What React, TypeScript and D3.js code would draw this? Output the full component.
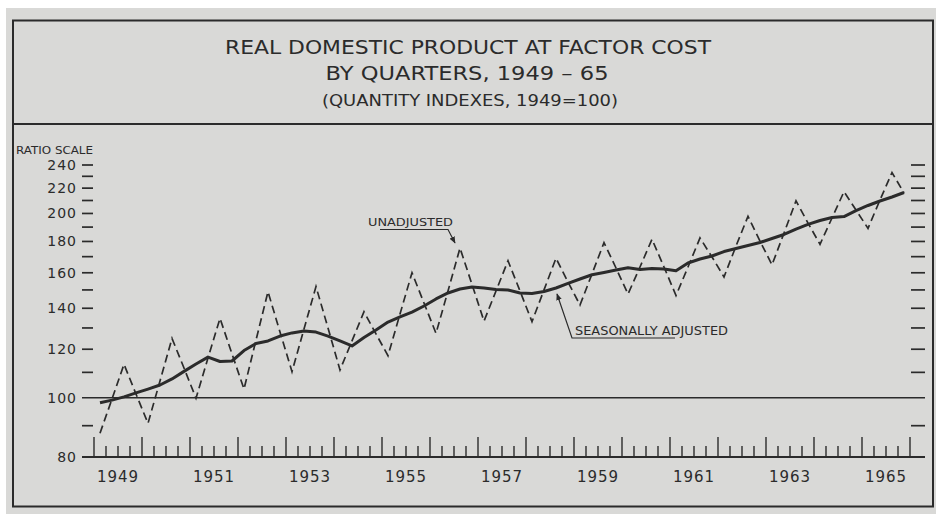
import React from "react";
import * as d3 from "d3";

// Real domestic product at factor cost, quarterly 1949Q1 - 1965Q4 (1949 = 100)
const yearLabels = [1949, 1951, 1953, 1955, 1957, 1959, 1961, 1963, 1965];
const yTickLabels = [80, 100, 120, 140, 160, 180, 200, 220, 240];
const yMinorTicks = [90, 110, 130, 150, 170, 190, 210, 230];

const unadjusted = [
  87.5, 99.5, 113.4, 101.4,
  90.8, 106.5, 125.0, 111.8,
  99.8, 116.1, 134.8, 117.9,
  103.3, 124.2, 149.0, 128.0,
  110.3, 129.5, 151.9, 130.0,
  111.0, 123.8, 138.2, 127.1,
  117.1, 137.0, 160.0, 142.8,
  127.4, 149.4, 175.6, 153.1,
  133.4, 149.4, 167.4, 149.4,
  133.1, 150.0, 169.0, 154.5,
  141.7, 159.3, 179.2, 162.9,
  147.7, 163.5, 181.5, 163.5,
  146.9, 163.5, 182.4, 169.8,
  157.5, 176.9, 197.9, 180.3,
  164.8, 185.8, 209.7, 192.9,
  178.1, 196.6, 217.1, 202.6,
  189.1, 210.4, 233.3, 216.0,
];

const seasonallyAdjusted = [
  98.1, 99.1, 100.3, 101.8,
  103.3, 104.9, 107.3, 110.4,
  113.5, 116.5, 114.6, 114.8,
  119.4, 122.6, 123.8, 126.1,
  127.6, 128.5, 128.0, 126.1,
  123.8, 121.5, 125.4, 129.0,
  132.9, 135.5, 138.0, 141.2,
  145.0, 148.3, 150.5, 151.7,
  151.1, 150.2, 150.0, 148.3,
  148.0, 149.1, 151.1, 153.7,
  156.3, 158.8, 160.2, 161.7,
  163.1, 162.0, 162.6, 162.3,
  161.2, 166.0, 168.5, 170.4,
  173.3, 175.3, 177.3, 179.3,
  182.0, 184.8, 188.6, 191.9,
  194.8, 197.0, 197.7, 202.2,
  206.1, 209.6, 212.8, 216.4,
];

const INK = "#2b2b2b";
const PAPER = "#d9d9d7";
const FONT = "'DejaVu Sans', sans-serif";

const App: React.FC = () => {
  const width = 936;
  const height = 514;

  const x = d3.scaleLinear().domain([1949, 1966]).range([94, 910]);
  const y = d3.scaleLog().domain([80, 240]).range([457, 165]);

  // points sit at the middle of each quarter
  const qx = (i: number) => x(1949 + (i + 0.5) / 4);

  const line = d3
    .line<number>()
    .x((_, i) => qx(i))
    .y((d) => y(d));

  const quarterTicks = d3.range(0, 17 * 4 + 1).map((i) => 1949 + i / 4);

  const axisLeft = 82;
  const axisRight = 925;

  return (
    <svg
      width={width}
      height={height}
      style={{ position: "fixed", top: 0, left: 0, display: "block" }}
    >
      <defs>
        <marker
          id="arrow"
          viewBox="0 0 10 10"
          refX="9"
          refY="5"
          markerWidth="7"
          markerHeight="7"
          orient="auto"
          markerUnits="userSpaceOnUse"
        >
          <path d="M0,1 L10,5 L0,9 z" fill={INK} />
        </marker>
      </defs>

      <rect x={0} y={0} width={width} height={height} fill="#ffffff" />
      <rect x={6} y={8} width={width - 6} height={height - 8} fill={PAPER} />

      {/* frame */}
      <rect
        x={13}
        y={20.5}
        width={920}
        height={486}
        fill="none"
        stroke={INK}
        strokeWidth={2}
      />
      <line x1={13} x2={933} y1={124} y2={124} stroke={INK} strokeWidth={2} />

      {/* title */}
      <g fill={INK} fontFamily={FONT} textAnchor="middle">
        <text x={468} y={54} fontSize={19} textLength={486} lengthAdjust="spacingAndGlyphs">
          REAL DOMESTIC PRODUCT AT FACTOR COST
        </text>
        <text x={467} y={80} fontSize={19} textLength={283} lengthAdjust="spacingAndGlyphs">
          BY QUARTERS, 1949 – 65
        </text>
        <text x={470} y={106} fontSize={15} textLength={296} lengthAdjust="spacingAndGlyphs">
          (QUANTITY INDEXES, 1949=100)
        </text>
      </g>

      {/* y axis */}
      <text
        x={16}
        y={154}
        fontSize={10.5}
        fontFamily={FONT}
        fill={INK}
        textLength={77}
        lengthAdjust="spacingAndGlyphs"
      >
        RATIO SCALE
      </text>
      {yTickLabels.map((v) => (
        <text
          key={`yl${v}`}
          x={77}
          y={y(v) + 5}
          fontSize={14}
          fontFamily={FONT}
          fill={INK}
          textAnchor="end"
          letterSpacing={1}
        >
          {v}
        </text>
      ))}
      {[...yTickLabels, ...yMinorTicks]
        .filter((v) => v !== 80 && v !== 100)
        .map((v) => (
          <g key={`yt${v}`} stroke={INK} strokeWidth={1.7}>
            <line x1={axisLeft} x2={axisLeft + 11} y1={y(v)} y2={y(v)} />
            <line x1={axisRight - 14} x2={axisRight} y1={y(v)} y2={y(v)} />
          </g>
        ))}

      {/* 100 reference line and base axis */}
      <line x1={axisLeft} x2={axisRight} y1={y(100)} y2={y(100)} stroke={INK} strokeWidth={1.6} />
      <line x1={axisLeft} x2={axisRight} y1={y(80)} y2={y(80)} stroke={INK} strokeWidth={1.8} />

      {/* quarter ticks */}
      {quarterTicks.map((t, i) => (
        <line
          key={`qt${i}`}
          x1={x(t)}
          x2={x(t)}
          y1={y(80)}
          y2={y(80) - (i % 4 === 0 ? 20 : 11)}
          stroke={INK}
          strokeWidth={1.4}
        />
      ))}
      {yearLabels.map((yr) => (
        <text
          key={`yr${yr}`}
          x={x(yr + 0.5)}
          y={482}
          fontSize={15}
          fontFamily={FONT}
          fill={INK}
          textAnchor="middle"
          letterSpacing={1}
        >
          {yr}
        </text>
      ))}

      {/* series */}
      <path
        d={line(unadjusted) || ""}
        fill="none"
        stroke={INK}
        strokeWidth={1.7}
        strokeDasharray="8 4.5"
      />
      <path
        d={line(seasonallyAdjusted) || ""}
        fill="none"
        stroke={INK}
        strokeWidth={3}
        strokeLinejoin="round"
      />

      {/* annotations */}
      <g fill={INK} fontFamily={FONT}>
        <text x={368} y={226} fontSize={11} textLength={85} lengthAdjust="spacingAndGlyphs">
          UNADJUSTED
        </text>
        <text x={575} y={335} fontSize={12} textLength={153} lengthAdjust="spacingAndGlyphs">
          SEASONALLY ADJUSTED
        </text>
      </g>
      <polyline
        points="380,229.5 448,229.5 455,243"
        fill="none"
        stroke={INK}
        strokeWidth={1.2}
        markerEnd="url(#arrow)"
      />
      <polyline
        points="675,338 572,338 557,294"
        fill="none"
        stroke={INK}
        strokeWidth={1.2}
        markerEnd="url(#arrow)"
      />
    </svg>
  );
};

export default App;
